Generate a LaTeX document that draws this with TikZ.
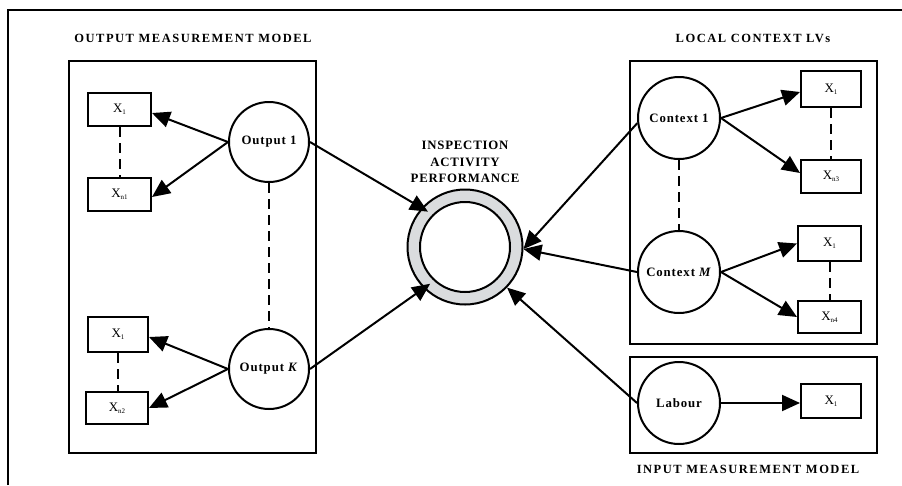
\documentclass[tikz,border=0pt]{standalone}
\usepackage{fontspec}
\setmainfont{Liberation Serif}
\newfontfamily\ttlfont[LetterSpace=12]{Liberation Serif}
\newfontfamily\lblfont[LetterSpace=7]{Liberation Serif}
\newfontfamily\ringfont[LetterSpace=6]{Liberation Serif}
\usetikzlibrary{arrows.meta}
\definecolor{ringgray}{RGB}{218,220,222}
\newcommand{\Xs}[1]{X\raisebox{-2.2pt}{\fontsize{7}{7}\selectfont #1}}

\begin{document}
\begin{tikzpicture}[x=1pt,y=-1pt,
  every node/.style={inner sep=0pt},
  thk/.style={line width=2pt},
  grp/.style={draw, line width=2pt, rectangle, anchor=north west, outer sep=0pt},
  lv/.style={draw, circle, line width=2pt, fill=white, font=\lblfont\bfseries\fontsize{12.8}{14}\selectfont},
  ind/.style={draw, rectangle, line width=2pt, fill=white, font=\fontsize{13}{14}\selectfont},
  ttl/.style={font=\ttlfont\bfseries\fontsize{12.5}{14}\selectfont, text height=8.3pt, text depth=0pt},
  arr/.style={line width=2pt, -{Triangle[length=18pt,width=16pt]}},
  dsh/.style={line width=2pt, dash pattern=on 10pt off 6pt},
]
\useasboundingbox (0,0) rectangle (902,485);
\fill[white] (0,0) rectangle (902,485);

% outer frame (cropped)
\draw[thk] (8,485) -- (8,10) -- (902,10);

% titles
\node[ttl] (t1) at (193,38) {OUTPUT MEASUREMENT MODEL};
\node[ttl] (t2) at (753,38) {LOCAL CONTEXT LVs};
\node[ttl] (t3) at (748,469) {INPUT MEASUREMENT MODEL};

% group boxes
\node[grp, minimum width=247pt, minimum height=392pt] (outgrp) at (69,61) {};
\node[grp, minimum width=247pt, minimum height=283pt] (ctxgrp) at (630,61) {};
\node[grp, minimum width=247pt, minimum height=96pt] (ingrp) at (630,357) {};

% performance ring
\node[circle, draw, line width=2pt, fill=ringgray, minimum size=115pt] (perf) at (465,247) {};
\node[circle, draw, line width=2pt, fill=white, minimum size=90pt] (perfin) at (perf.center) {};
\node[font=\ringfont\bfseries\fontsize{12.8}{16.5}\selectfont, align=center] (perftxt) at (465,162) {INSPECTION\\ACTIVITY\\PERFORMANCE};

% latent variables
\node[lv, minimum size=80pt] (out1) at (269,142) {Output 1};
\node[lv, minimum size=80pt] (outK) at (269,369) {Output \textit{K}};
\node[lv, minimum size=82pt] (ctx1) at (679,118) {Context 1};
\node[lv, minimum size=82pt] (ctxM) at (679,272) {Context \textit{M}};
\node[lv, minimum size=82pt] (lab) at (679,403) {Labour};

% indicators
\node[ind, minimum width=63pt, minimum height=33pt] (xa1) at (119.5,109.5) {\Xs{1}};
\node[ind, minimum width=63pt, minimum height=33pt] (xan) at (119.5,194.5) {\Xs{n1}};
\node[ind, minimum width=60pt, minimum height=35pt] (xb1) at (118,334.5) {\Xs{1}};
\node[ind, minimum width=62pt, minimum height=32pt] (xbn) at (117,408) {\Xs{n2}};
\node[ind, minimum width=60pt, minimum height=36pt] (xc1) at (831,89) {\Xs{1}};
\node[ind, minimum width=60pt, minimum height=33pt] (xcn) at (831,176) {\Xs{n3}};
\node[ind, minimum width=63pt, minimum height=35pt] (xd1) at (829.5,243.5) {\Xs{1}};
\node[ind, minimum width=63pt, minimum height=32pt] (xdn) at (829.5,317) {\Xs{n4}};
\node[ind, minimum width=60pt, minimum height=34pt] (xe1) at (831,401) {\Xs{1}};

% dashed links
\draw[dsh] (xa1.south) -- (xan.north);
\draw[dsh] (xb1.south) -- (xb1.south |- xbn.north);
\draw[dsh] (out1.south) -- (outK.north);
\draw[dsh] (ctx1.south) -- (ctxM.north);
\draw[dsh] (xc1.south) -- (xcn.north);
\draw[dsh] (xd1.south) -- (xdn.north);

% arrows
\draw[arr] (out1.west) -- ([yshift=-3.5pt]xa1.east);
\draw[arr] (out1.west) -- ([yshift=-2.5pt]xan.east);
\draw[arr] (outK.west) -- ([yshift=-2.5pt]xb1.east);
\draw[arr] (outK.west) -- (xbn.east);
\draw[arr, shorten >=-7.5pt] (out1.east) -- (perf.138);
\draw[arr, shorten >=-8pt] (outK.east) -- (perf.225);
\draw[arr] (ctx1.187) -- (perf.-2);
\draw[arr] (ctxM.west) -- (perf.-2);
\draw[arr] (lab.west) -- (perf.-44);
\draw[arr] (ctx1.east) -- ([yshift=-3pt]xc1.west);
\draw[arr] (ctx1.east) -- ([yshift=3pt]xcn.west);
\draw[arr] (ctxM.east) -- (xd1.west);
\draw[arr] (ctxM.east) -- (xdn.west);
\draw[arr] (lab.east) -- (lab.east -| xe1.west);
\end{tikzpicture}
\end{document}
